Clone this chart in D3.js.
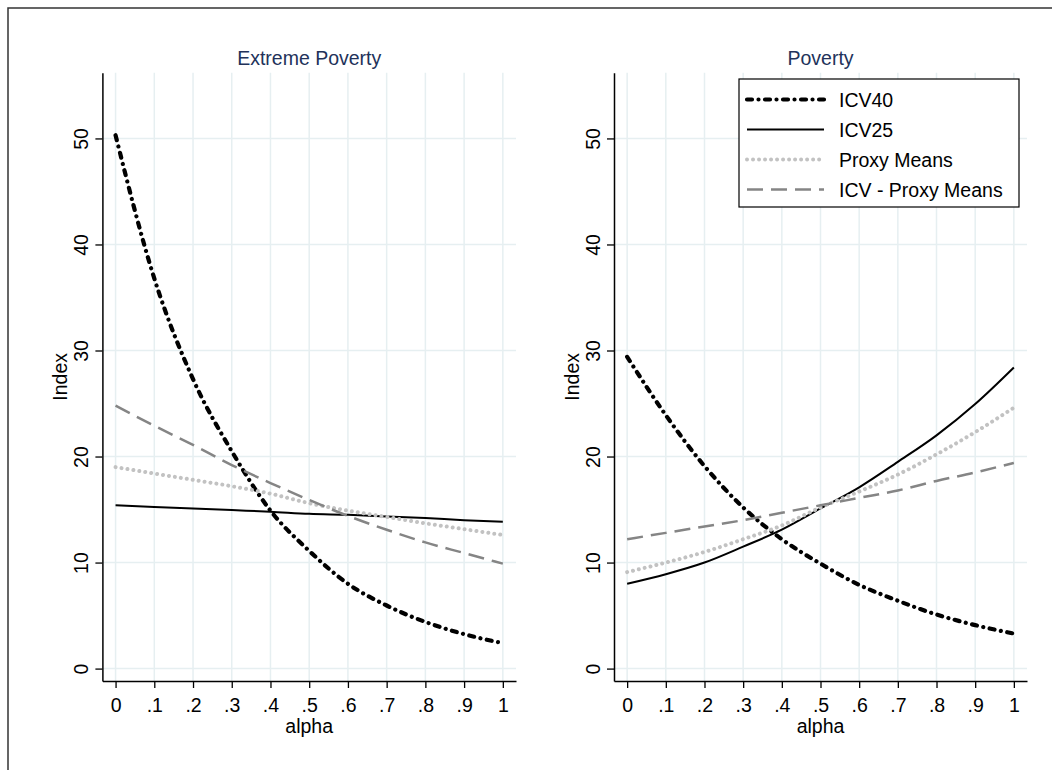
<!DOCTYPE html>
<html>
<head>
<meta charset="utf-8">
<script src="https://cdn.jsdelivr.net/npm/d3@7"></script>
<style>
  body { margin: 0; background: #fff; }
  text { font-family: "Liberation Sans", Arial, sans-serif; }
</style>
</head>
<body>
<div class="chart"></div>
<script>
var svgWidth = 1052;
var svgHeight = 770;

// data
var alphaValues = [0, .1, .2, .3, .4, .5, .6, .7, .8, .9, 1];
var xTickLabels = ["0", ".1", ".2", ".3", ".4", ".5", ".6", ".7", ".8", ".9", "1"];
var yTickValues = [0, 10, 20, 30, 40, 50];
var seriesNames = ["ICV40", "ICV25", "Proxy Means", "ICV - Proxy Means"];
var panelTitles = ["Extreme Poverty", "Poverty"];

// Extreme Poverty
var extremeICV40 = [50.3, 36.8, 27.3, 20.5, 14.9, 11.1, 8.0, 5.95, 4.4, 3.25, 2.4];
var extremeICV25 = [15.4, 15.25, 15.1, 14.95, 14.8, 14.6, 14.5, 14.35, 14.2, 14.0, 13.85];
var extremeProxy = [19.0, 18.4, 17.8, 17.2, 16.5, 15.6, 14.9, 14.3, 13.7, 13.15, 12.6];
var extremeICVProxy = [24.8, 22.9, 21.1, 19.2, 17.5, 15.9, 14.4, 13.1, 11.9, 10.9, 9.9];

// Poverty
var povertyICV40 = [29.4, 23.9, 19.1, 15.2, 12.2, 9.9, 7.9, 6.4, 5.1, 4.1, 3.3];
var povertyICV25 = [8.0, 8.9, 10.0, 11.5, 13.1, 15.1, 17.1, 19.5, 22.0, 24.95, 28.4];
var povertyProxy = [9.1, 10.0, 11.0, 12.2, 13.5, 15.2, 16.7, 18.3, 20.2, 22.3, 24.6];
var povertyICVProxy = [12.2, 12.8, 13.4, 14.0, 14.7, 15.4, 16.1, 16.8, 17.7, 18.5, 19.4];

var panelSeries = [
  [extremeICV40, extremeICV25, extremeProxy, extremeICVProxy],
  [povertyICV40, povertyICV25, povertyProxy, povertyICVProxy]
];

// line looks, same order as seriesNames
var lineStyles = [
  { color: "#000", width: 4.2, dash: "5,6.5,0.01,6.5", cap: "round" },
  { color: "#000", width: 2, dash: null, cap: "butt" },
  { color: "#c2c2c2", width: 4, dash: "0.01,6", cap: "round" },
  { color: "#858585", width: 2.5, dash: "16,8", cap: "butt" }
];

var panels = [
  { left: 102.4, right: 516 },
  { left: 614, right: 1027 }
];
var plotTop = 72.7;
var plotBottom = 681;
var gridColor = "#e6eff1";
var fontSize = "19.5px";

var svg = d3.select(".chart")
  .append("svg")
  .attr("width", svgWidth)
  .attr("height", svgHeight);

// outer frame (only top and left edges are in view)
svg.append("path")
  .attr("d", "M8,770 L8,8 L1052,8")
  .attr("fill", "none")
  .attr("stroke", "#333")
  .attr("stroke-width", 1.5);

var yScale = d3.scaleLinear()
  .domain([-1.17, 56.2])
  .range([plotBottom, plotTop]);

panels.forEach(function(p, i) {
  var xScale = d3.scaleLinear()
    .domain([-0.034, 1.034])
    .range([p.left, p.right]);

  var g = svg.append("g");

  // grid
  g.selectAll(".vgrid")
    .data(alphaValues)
    .enter()
    .append("line")
    .attr("x1", d => xScale(d))
    .attr("x2", d => xScale(d))
    .attr("y1", plotTop)
    .attr("y2", plotBottom)
    .attr("stroke", gridColor)
    .attr("stroke-width", 1.5);

  g.selectAll(".hgrid")
    .data(yTickValues)
    .enter()
    .append("line")
    .attr("x1", p.left)
    .attr("x2", p.right)
    .attr("y1", d => yScale(d))
    .attr("y2", d => yScale(d))
    .attr("stroke", gridColor)
    .attr("stroke-width", 1.5);

  // series lines
  var line = d3.line()
    .x((d, k) => xScale(alphaValues[k]))
    .y(d => yScale(d))
    .curve(d3.curveMonotoneX);

  panelSeries[i].forEach(function(values, s) {
    var st = lineStyles[s];
    g.append("path")
      .datum(values)
      .attr("d", line)
      .attr("fill", "none")
      .attr("stroke", st.color)
      .attr("stroke-width", st.width)
      .attr("stroke-linecap", st.cap)
      .attr("stroke-linejoin", "round")
      .attr("stroke-dasharray", st.dash);
  });

  // y axis
  var leftAxis = d3.axisLeft(yScale)
    .tickValues(yTickValues)
    .tickSize(7)
    .tickSizeOuter(0);

  var yAxis = g.append("g")
    .attr("transform", `translate(${p.left}, 0)`)
    .call(leftAxis);

  yAxis.selectAll("text")
    .attr("x", null)
    .attr("dy", null)
    .attr("transform", "translate(-14.4, 0) rotate(-90)")
    .style("text-anchor", "middle")
    .style("font-size", fontSize)
    .attr("fill", "#000");

  // x axis
  var bottomAxis = d3.axisBottom(xScale)
    .tickValues(alphaValues)
    .tickFormat((d, k) => xTickLabels[k])
    .tickSize(7)
    .tickSizeOuter(0);

  var xAxis = g.append("g")
    .attr("transform", `translate(0, ${plotBottom})`)
    .call(bottomAxis);

  xAxis.selectAll("text")
    .attr("y", 30.5)
    .attr("dy", null)
    .style("font-size", fontSize)
    .attr("fill", "#000");

  [yAxis, xAxis].forEach(function(ax) {
    ax.attr("font-family", null);
    ax.select(".domain").attr("stroke", "#000").attr("stroke-width", 1.5);
    ax.selectAll(".tick line").attr("stroke", "#000").attr("stroke-width", 1.3);
  });

  // axis titles
  g.append("text")
    .attr("x", (xScale(0) + xScale(1)) / 2)
    .attr("y", 733)
    .attr("text-anchor", "middle")
    .style("font-size", fontSize)
    .text("alpha");

  g.append("text")
    .attr("transform", `translate(${p.left - 35.5}, ${(plotTop + plotBottom) / 2}) rotate(-90)`)
    .attr("text-anchor", "middle")
    .style("font-size", fontSize)
    .text("Index");

  // panel title
  g.append("text")
    .attr("x", (p.left + p.right) / 2)
    .attr("y", 65.3)
    .attr("text-anchor", "middle")
    .attr("fill", "#22325a")
    .style("font-size", fontSize)
    .text(panelTitles[i]);
});

// legend
var legend = svg.append("g");
legend.append("rect")
  .attr("x", 739)
  .attr("y", 79)
  .attr("width", 280)
  .attr("height", 128)
  .attr("fill", "#fff")
  .attr("stroke", "#000")
  .attr("stroke-width", 1.2);

var legendRows = d3.scalePoint()
  .domain(seriesNames)
  .range([99.5, 189.5]);

seriesNames.forEach(function(name, s) {
  var st = lineStyles[s];
  var cy = legendRows(name);
  legend.append("line")
    .attr("x1", 747)
    .attr("x2", 824)
    .attr("y1", cy)
    .attr("y2", cy)
    .attr("stroke", st.color)
    .attr("stroke-width", st.width)
    .attr("stroke-linecap", st.cap)
    .attr("stroke-dasharray", st.dash);
  legend.append("text")
    .attr("x", 839)
    .attr("y", cy + 7)
    .style("font-size", fontSize)
    .text(name);
});
</script>
</body>
</html>
